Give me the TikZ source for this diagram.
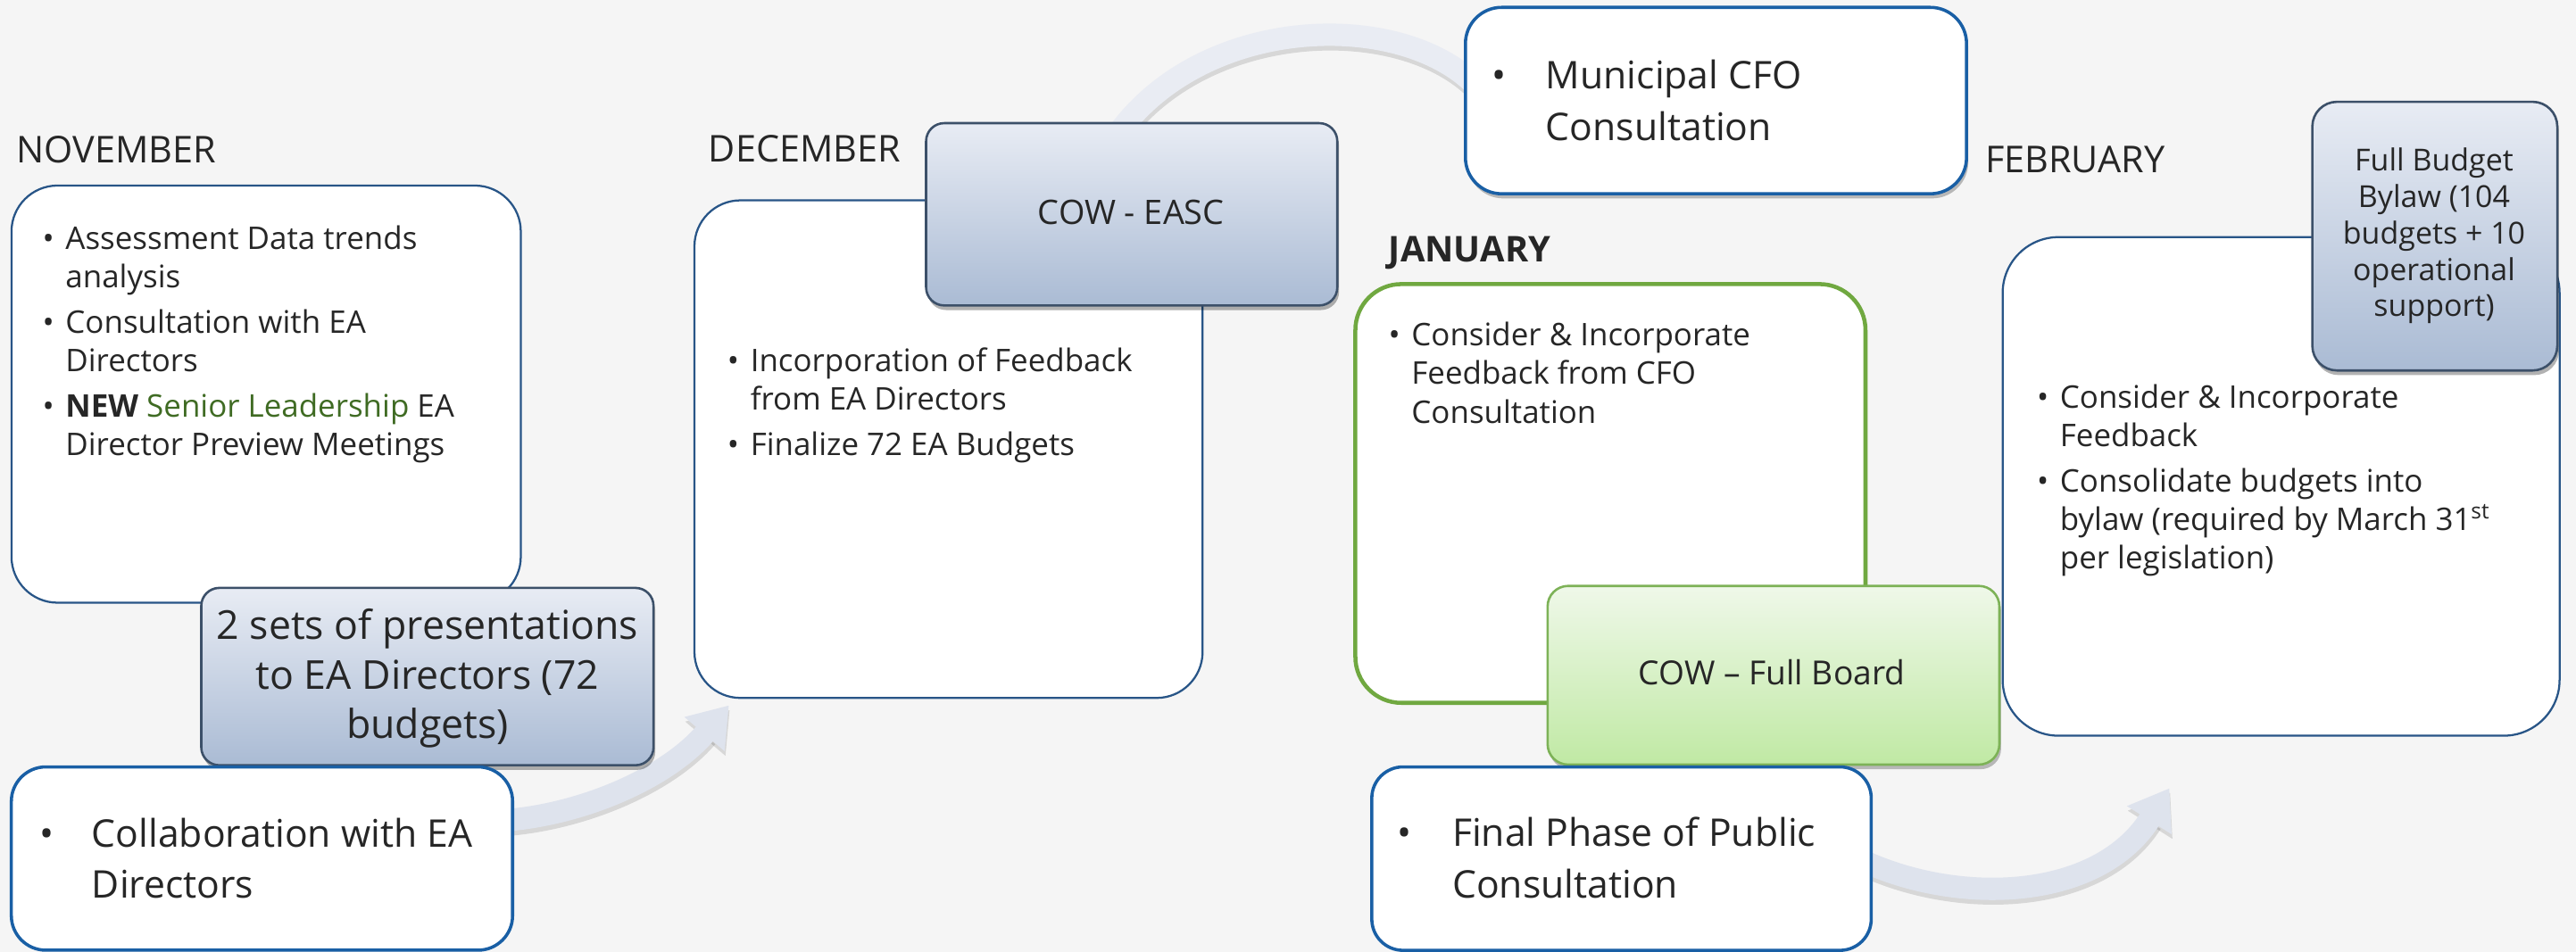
\documentclass[tikz,border=0pt]{standalone}
\usepackage{fontspec}
\setmainfont{Open Sans}
\usetikzlibrary{arrows.meta,shadows,fit}

\definecolor{bgc}{RGB}{245,245,245}
\definecolor{txt}{RGB}{38,38,38}
\definecolor{nbord}{RGB}{40,85,135}
\definecolor{cbord}{RGB}{25,95,165}
\definecolor{gtop}{RGB}{232,236,244}
\definecolor{gbot}{RGB}{170,187,212}
\definecolor{gline}{RGB}{60,80,105}
\definecolor{grtop}{RGB}{239,248,233}
\definecolor{grbot}{RGB}{192,233,164}
\definecolor{grline}{RGB}{125,178,87}
\definecolor{janline}{RGB}{112,168,64}
\definecolor{lgreen}{RGB}{63,107,35}
\definecolor{arrc}{RGB}{222,227,237}
\definecolor{arcc}{RGB}{233,236,243}

% one bullet item with a hanging indent
\newcommand{\bitem}[2]{\par\hangindent=#1\hangafter=1\noindent\makebox[#1][l]{\textbullet}#2\par}

\begin{document}
\begin{tikzpicture}[x=0.02cm, y=-0.02cm,
  wbox/.style={draw=nbord, line width=0.7pt, fill=white, rounded corners=0.56cm, inner sep=0pt},
  cbox/.style={draw=cbord, line width=1.1pt, fill=white, rounded corners=0.42cm, inner sep=0pt},
  gbox/.style={draw=gline, line width=0.8pt, top color=gtop, bottom color=gbot,
    rounded corners=0.22cm, inner sep=0pt,
    drop shadow={shadow xshift=0.6pt, shadow yshift=-1.6pt, opacity=0.3, fill=black}},
  grbox/.style={draw=grline, line width=0.8pt, top color=grtop, bottom color=grbot,
    rounded corners=0.25cm, inner sep=0pt,
    drop shadow={shadow xshift=0.6pt, shadow yshift=-1.6pt, opacity=0.25, fill=black}},
  month/.style={anchor=base west, inner sep=0pt, text=txt, font=\fontsize{12.8}{15}\selectfont},
  body/.style={anchor=base west, inner sep=0pt, text=txt, font=\fontsize{10.8}{13.4}\selectfont},
  big/.style={anchor=base west, inner sep=0pt, text=txt, font=\fontsize{13.2}{17.7}\selectfont},
  ctr/.style={anchor=base, inner sep=0pt, text=txt},
  arcst/.style={draw=arcc, line width=0.272cm},
  flow/.style={draw=arrc, line width=0.272cm, -{Triangle[length=0.46cm, width=0.61cm]}},
  shd/.style={draw=black, opacity=0.12, transform canvas={xshift=0.3pt, yshift=-1.6pt}},
  shdflow/.style={shd, line width=0.272cm, -{Triangle[length=0.46cm, width=0.61cm]}}
]
\useasboundingbox (0,0) rectangle (1568,579.7);
\fill[bgc] (0,0) rectangle (1568,579.7);

% curved connectors behind the boxes
\coordinate (t1) at (680,82);
\coordinate (t2) at (905,60);
\draw[shd, line width=0.272cm] (t1) .. controls (735,5) and (865,5) .. (t2);
\draw[arcst] (t1) .. controls (735,5) and (865,5) .. (t2);

\coordinate (a1s) at (300,500);
\coordinate (a1e) at (443.7,429.5);
\draw[shdflow] (a1s) .. controls (350,498) and (405,475) .. (a1e);
\draw[flow] (a1s) .. controls (350,498) and (405,475) .. (a1e);

\coordinate (a2s) at (1120,517);
\coordinate (a2e) at (1320.5,480);
\draw[shdflow] (a2s) .. controls (1180,552) and (1275,552) .. (a2e);
\draw[flow] (a2s) .. controls (1180,552) and (1275,552) .. (a2e);

% November
\node[month] (novm) at (9.7,99) {NOVEMBER};
\node[wbox, fit={(7,113) (317,367)}] (nov) {};
\node[body] (novtxt) at (25.5,151.7) {\parbox[t]{9cm}{%
  \bitem{8pt}{Assessment Data trends\\analysis}\vspace{2.3pt}%
  \bitem{8pt}{Consultation with EA\\Directors}\vspace{2.3pt}%
  \bitem{8pt}{\textbf{NEW} \textcolor{lgreen}{Senior Leadership} EA\\Director Preview Meetings}}};
\node[gbox, fit={(122.5,358) (397.8,466)}] (sets) {};
\node[ctr, font=\fontsize{13.8}{17.1}\selectfont] (setstxt) at (260.2,389.4)
  {\parbox[t]{6cm}{\centering 2 sets of presentations\\to EA Directors (72\\budgets)}};
\node[cbox, fit={(6.9,467) (312,578.6)}] (collab) {};
\node[big] (collabtxt) at (23.6,516) {\parbox[t]{8cm}{\bitem{18.2pt}{Collaboration with EA\\Directors}}};

% December
\node[month] (decm) at (431,98.7) {DECEMBER};
\node[wbox, fit={(422.7,122) (732,425)}] (dec) {};
\node[body] (dectxt) at (442.4,226.3) {\parbox[t]{9cm}{%
  \bitem{8pt}{Incorporation of Feedback\\from EA Directors}\vspace{2.3pt}%
  \bitem{8pt}{Finalize 72 EA Budgets}}};
\node[gbox, fit={(563.7,75) (814,186)}] (easc) {};
\node[ctr, font=\fontsize{11.7}{14}\selectfont] (easctxt) at (688.5,136.7) {COW - EASC};

% Municipal CFO consultation
\node[cbox, rounded corners=0.44cm,
  drop shadow={shadow xshift=0.6pt, shadow yshift=-1.6pt, opacity=0.25, fill=black},
  fit={(892,4.5) (1197,118)}] (cfo) {};
\node[big] (cfotxt) at (907.6,54.3) {\parbox[t]{8cm}{\bitem{18.8pt}{Municipal CFO\\Consultation}}};

% January
\node[month, font=\bfseries\fontsize{12.3}{15}\selectfont] (janm) at (845,159.7) {JANUARY};
\node[wbox, draw=janline, line width=1.4pt, fit={(825,173) (1135.5,428)}] (jan) {};
\node[body] (jantxt) at (844.8,210.6) {\parbox[t]{9cm}{%
  \bitem{8pt}{Consider \& Incorporate\\Feedback from CFO\\Consultation}}};
\node[grbox, fit={(942,356.8) (1217,465.6)}] (fullb) {};
\node[ctr, font=\fontsize{11.5}{14}\selectfont] (fullbtxt) at (1078.5,417) {COW -- Full Board};
\node[cbox, rounded corners=0.38cm, fit={(835,467) (1139,578.7)}] (final) {};
\node[big] (finaltxt) at (850.3,515.6) {\parbox[t]{8cm}{\bitem{19pt}{Final Phase of Public\\Consultation}}};

% February
\node[month] (febm) at (1208,105) {FEBRUARY};
\node[wbox, rounded corners=0.68cm, fit={(1219,144.4) (1558,448)}] (feb) {};
\node[body] (febtxt) at (1239.5,248.3) {\parbox[t]{9cm}{%
  \bitem{8pt}{Consider \& Incorporate\\Feedback}\vspace{2.3pt}%
  \bitem{8pt}{Consolidate budgets into\\bylaw (required by March 31\textsuperscript{st}\\per legislation)}}};
\node[gbox, rounded corners=0.3cm, fit={(1407.5,62) (1556.6,225.6)}] (bylaw) {};
\node[ctr, font=\fontsize{10.5}{12.6}\selectfont] (bylawtxt) at (1481.6,104.2)
  {\parbox[t]{4cm}{\centering Full Budget\\Bylaw (104\\budgets + 10\\operational\\support)}};
\end{tikzpicture}
\end{document}
